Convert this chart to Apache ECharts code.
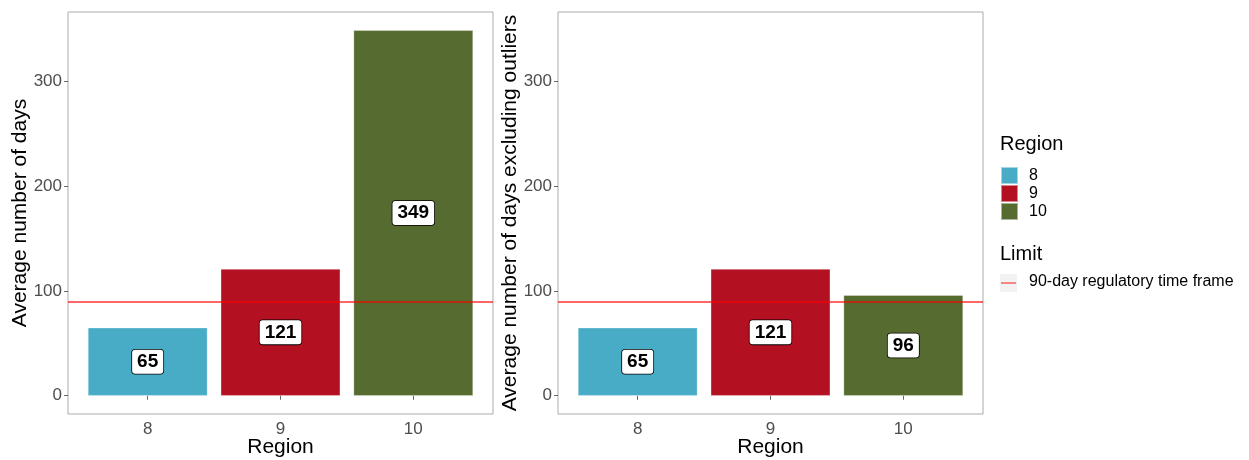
<!DOCTYPE html>
<html>
<head>
<meta charset="utf-8">
<script src="https://cdn.jsdelivr.net/npm/echarts@6/dist/echarts.min.js"></script>
<style>html,body{margin:0;padding:0;background:#fff;}#chart{width:1249px;height:460px;}</style>
</head>
<body>
<div id="chart"></div>
<script>
const regions = ['8', '9', '10'];
const avgDays = [65, 121, 349];
const avgDaysExclOutliers = [65, 121, 96];
const limitDays = 90;
const yTickValues = [0, 100, 200, 300];
const regionColors = ['#48ACC7', '#B31022', '#566B2F'];
const panelYTitles = ['Average number of days', 'Average number of days excluding outliers'];
const xTitle = 'Region';
const limitLabel = '90-day regulatory time frame';

const FONT = 'Liberation Sans, Arial, sans-serif';
const allVals = avgDays.concat(avgDaysExclOutliers);
const yMaxData = Math.max.apply(null, allVals);
const yPad = yMaxData * 0.05;
const positions = regions.map((r, i) => i + 1);

const panels = [avgDays, avgDaysExclOutliers];
const gridLefts = [68, 558];

const grids = [], xAxes = [], yAxes = [], series = [];
panels.forEach((vals, p) => {
  grids.push({left: gridLefts[p], top: 12, width: 425, height: 402, show: true,
    borderColor: '#ABABAB', borderWidth: 1, backgroundColor: '#fff',
    containLabel: false, outerBoundsMode: 'none'});
  xAxes.push({type: 'value', gridIndex: p, min: 0.4, max: 3.6,
    axisLine: {show: false},
    axisTick: {show: true, length: 4, customValues: positions, lineStyle: {color: '#666'}},
    axisLabel: {customValues: positions, margin: 7, fontSize: 17, color: '#4D4D4D', fontFamily: FONT,
      formatter: v => regions[Math.round(v) - 1]},
    splitLine: {show: false},
    name: xTitle, nameLocation: 'middle', nameGap: 23, nameMoveOverlap: false,
    nameTextStyle: {fontSize: 21, color: '#000', fontFamily: FONT, verticalAlign: 'top'}});
  yAxes.push({type: 'value', gridIndex: p, min: -yPad, max: yMaxData + yPad,
    axisLine: {show: false},
    axisTick: {show: true, length: 4, customValues: yTickValues, lineStyle: {color: '#666'}},
    axisLabel: {customValues: yTickValues, margin: 6, fontSize: 17, color: '#4D4D4D', fontFamily: FONT},
    splitLine: {show: false},
    name: panelYTitles[p], nameLocation: 'middle', nameGap: 37, nameRotate: 90, nameMoveOverlap: false,
    nameTextStyle: {fontSize: 21, color: '#000', fontFamily: FONT}});
  regions.forEach((r, i) => {
    const s = {
      type: 'bar', name: r, xAxisIndex: p, yAxisIndex: p, stack: 'panel' + p,
      barWidth: '90%',
      data: [[positions[i], vals[i]]],
      itemStyle: {color: regionColors[i], borderColor: 'rgba(255,255,255,0.5)', borderWidth: 0.6},
      label: {show: true, position: 'inside', formatter: d => String(d.value[1]),
        fontSize: 19, fontWeight: 'bold', color: '#000', fontFamily: FONT,
        backgroundColor: '#fff', borderColor: '#000', borderWidth: 0.8, borderRadius: 3,
        padding: [3, 5, 2, 5]},
      emphasis: {disabled: true}, silent: true
    };
    if (i === 0) {
      s.markLine = {silent: true, symbol: 'none', label: {show: false},
        lineStyle: {color: 'rgba(255,0,0,0.6)', width: 2, type: 'solid'},
        data: [{yAxis: limitDays}]};
    }
    series.push(s);
  });
});

const chart = echarts.init(document.getElementById('chart'), null, {renderer: 'canvas'});
chart.setOption({
  animation: false,
  backgroundColor: '#fff',
  grid: grids, xAxis: xAxes, yAxis: yAxes, series: series,
  legend: {data: regions, orient: 'vertical', left: 1000, top: 166, icon: 'rect', padding: 0,
    itemWidth: 17, itemHeight: 17, itemGap: -1, selectedMode: false,
    textStyle: {fontSize: 16, color: '#000', fontFamily: FONT, lineHeight: 17, padding: [0, 0, 0, 6]}},
  graphic: [
    {type: 'text', left: 1000, top: 134, style: {text: 'Region', fontSize: 20, fill: '#000', fontFamily: FONT}},
    {type: 'text', left: 1000, top: 244, style: {text: 'Limit', fontSize: 20, fill: '#000', fontFamily: FONT}},
    {type: 'rect', shape: {x: 1000, y: 274, width: 17, height: 18}, style: {fill: '#F2F2F2'}},
    {type: 'line', shape: {x1: 1001, y1: 283, x2: 1016, y2: 283}, style: {stroke: 'rgba(255,0,0,0.6)', lineWidth: 1.5}},
    {type: 'text', left: 1029, top: 274, style: {text: limitLabel, fontSize: 16, fill: '#000', fontFamily: FONT}}
  ]
});
</script>
</body>
</html>
